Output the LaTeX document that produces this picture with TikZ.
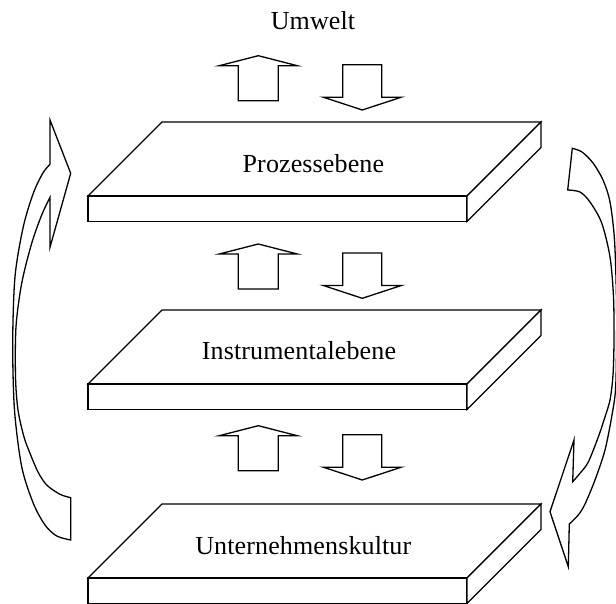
\documentclass[tikz,border=0pt]{standalone}
\usepackage{fontspec}
\setmainfont{Liberation Serif}
\begin{document}
\begin{tikzpicture}[x=1pt,y=-1pt,
  outline/.style={draw=black,line width=1.3pt,line join=miter,fill=white},
  levelname/.style={font=\fontsize{26}{31}\selectfont\addfontfeatures{LetterSpace=0.5},
    anchor=base,inner sep=0pt},
  % a flat slab seen from above: top face, front face, right side
  slab/.pic={
    \draw[outline] (74,0) -- (453,0) -- (379,74) -- (0,74) -- cycle;
    \draw[outline] (0,74) rectangle (379,99.5);
    \draw[outline] (379,74) -- (453,0) -- (453,25.5) -- (379,99.5) -- cycle;
  },
  % a hollow arrow pointing up and one pointing down
  updown/.pic={
    \draw[outline] (0,0) -- (39,10) -- (20,10) -- (20,45) -- (-20,45) -- (-20,10) -- (-39,10) -- cycle;
    \draw[outline] (84.5,9) -- (123.5,9) -- (123.5,41.5) -- (143,41.5) -- (104,54.3)
      -- (65,41.5) -- (84.5,41.5) -- cycle;
  }]
\useasboundingbox (0,0) rectangle (616,604);
\clip (0,0) rectangle (616,604);

% the three levels
\pic at (88,122) {slab};
\pic at (88,310) {slab};
\pic at (88,504) {slab};

% exchange arrows between the levels
\pic at (258.3,55.7) {updown};
\pic at (258.3,244) {updown};
\pic at (258.3,425.7) {updown};

% level names
\node[levelname] (umwelt) at (313,29.3) {Umwelt};
\node[levelname] (prozess) at (313.4,172.7) {Prozessebene};
\node[levelname] (instrument) at (299,359) {Instrumentalebene};
\node[levelname] (kultur) at (303.3,554) {Unternehmenskultur};

% curved arrow on the left, pointing up
\draw[outline] (50,120) -- (70.7,173.3) -- (50,247.3) -- (50,197.3)
  -- plot[smooth] coordinates {(50,197.3) (41.7,215) (31.7,243.3) (21.7,283.3) (16,326.7)
     (15.5,376.7) (18,410) (24,437) (30,453.3) (38,472) (46.7,485) (60,494.3) (70.7,497.7)}
  -- (70.7,540)
  -- plot[smooth] coordinates {(70.7,540) (56.7,536) (45,525) (33.3,503.3) (21.7,466.7)
     (14.5,410) (12.7,343.3) (15,276.7) (23.3,226.7) (33.3,193.3) (42.7,173.3) (50,164.3)}
  -- cycle;

% curved arrow on the right, pointing down
\draw[outline] (572.3,148.3) -- (567.7,190)
  -- plot[smooth] coordinates {(567.7,190) (580,192) (590,202) (601.7,223) (610,257)
     (613.5,297) (614,340) (613,375) (610,400) (604,420) (598.3,437) (588.3,462)
     (580,473.3) (572.7,481.7)}
  -- (574,440) -- (550,511.7) -- (568.3,566.7) -- (569.3,524)
  -- plot[smooth] coordinates {(569.3,524) (578.3,515) (585,504) (595,480) (605,450)
     (612,415) (615.5,390) (616.5,350) (616.5,300) (614.5,240) (610,202) (603,180)
     (593,163) (582,152) (572.3,148.3)}
  -- cycle;
\end{tikzpicture}
\end{document}
